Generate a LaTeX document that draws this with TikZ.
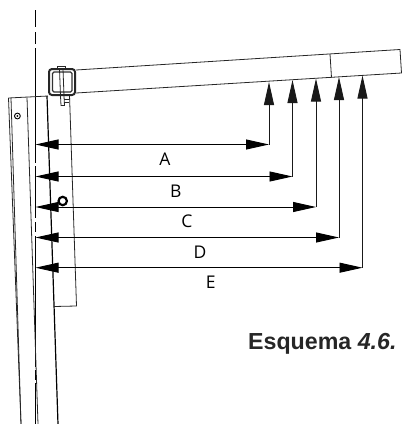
\documentclass[tikz,border=0pt]{standalone}
\usepackage{fontspec}
\setmainfont{Liberation Sans}
\newfontfamily\labfont{Open Sans}
\usetikzlibrary{arrows.meta}
\tikzset{
  x=1pt,y=-1pt,
  ln/.style={line width=0.8pt,black!85},
  heavy ln/.style={line width=1.2pt,black},
  dim/.style={line width=0.9pt,black,{Triangle[length=23pt,width=10pt]}-{Triangle[length=23pt,width=10pt]}},
  up/.style={line width=0.9pt,black!90,-{Triangle[length=23pt,width=10pt]}},
  lab/.style={font=\labfont\fontsize{17.5}{20}\selectfont,inner sep=0pt},
  capt/.style={font=\fontsize{23.2}{26}\selectfont\bfseries,inner sep=0pt,text=black!85}
}
\begin{document}
\begin{tikzpicture}
\useasboundingbox (0,0) rectangle (402,424);
% centre line
\draw[line width=0.9pt,black] (35.5,10) -- (35.5,27) (35.5,32) -- (35.5,44) (35.5,48) -- (35.5,163)
  (35.5,166) -- (35.5,218) (35.5,222) -- (35.5,232) (35.5,236) -- (35.5,367) (35.5,370) -- (35.5,380) (35.5,383) -- (35.5,424);
% beam
\coordinate (bl1) at (76,70); \coordinate (tr) at (400,49.5);
\coordinate (bl2) at (76,93); \coordinate (br) at (401.5,73);
\draw[ln] (bl1) -- (tr) -- (br) -- (bl2);
\draw[ln] (330,54) -- (331.5,77.5);
% post
\draw[ln] (8.5,98) -- (48,96);
\draw[ln] (8.5,98) -- (17,320) -- (21,424);
\draw[ln] (11,98) -- (21,424);
\draw[ln] (27,97.5) -- (38,424);
\draw[heavy ln] (47,96) -- (58,424);
\draw[ln] (69.5,95) -- (76.5,306) -- (54,306.5);
% bracket
\draw[line width=2pt,rounded corners=3pt,black!85] (49,69) rectangle (75,95);
\draw[line width=1.2pt,rounded corners=1.5pt,black!80] (52.5,72) rectangle (72,92);
\draw[ln] (57.5,69) -- (57.5,66.5) -- (65,66.5) -- (65,69);
\draw[ln] (59.5,69) -- (60.5,96) (63,69) -- (64,96);
\draw[ln] (60.5,96) -- (61,105.5) -- (64.5,105.5) -- (64,96);
\draw[ln] (64,99) -- (69,99) (64,102) -- (69,102);
% small bolt
\draw[line width=0.9pt] (17.4,116) circle (2.9pt);
\fill (17.4,116) circle (1pt);
% arrows
\coordinate (la) at (35.5,144.5); \coordinate (ra) at (269,144.5); \coordinate (ta) at (269,82);
\coordinate (lb) at (35.5,176.5); \coordinate (rb) at (292.5,176.5); \coordinate (tb) at (292.5,80);
\coordinate (lc) at (35.5,207); \coordinate (rc) at (316,207); \coordinate (tc) at (316,78.5);
\coordinate (ld) at (35.5,237.5); \coordinate (rd) at (339,237.5); \coordinate (td) at (339,77);
\coordinate (le) at (35.5,267.7); \coordinate (re) at (362.5,267.7); \coordinate (te) at (362.5,75.5);
\foreach \n in {a,b,c,d,e}{
  \draw[dim] (l\n) -- (r\n);
  \draw[up] (r\n) -- (t\n);
}
% large bolt, over the arrowhead
\draw[line width=2.2pt,fill=white] (62.7,201) circle (4.2pt);
\node[lab] (A) at (165,159) {A};
\node[lab] (B) at (175.7,191.5) {B};
\node[lab] (C) at (187,221) {C};
\node[lab] (D) at (200,252.5) {D};
\node[lab] (E) at (210.7,282) {E};
\node[capt,anchor=west] (T) at (248,344) {Esquema \textit{4.6.}};
\end{tikzpicture}
\end{document}
